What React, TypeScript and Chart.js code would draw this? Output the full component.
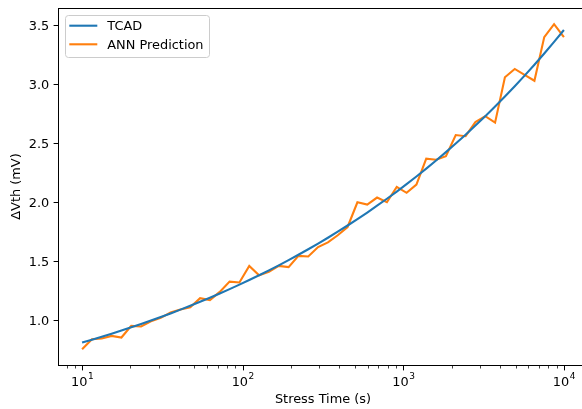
import React, { useEffect, useRef } from "react";
import { Chart, registerables } from "chart.js";

Chart.register(...registerables);

// ---- data ----
const stressTime = [
  10, 11.514, 13.257, 15.264, 17.575, 20.236, 23.3, 26.827, 30.888, 35.565,
  40.949, 47.149, 54.287, 62.506, 71.969, 82.864, 95.41, 109.854, 126.486, 145.635,
  167.683, 193.07, 222.3, 255.955, 294.705, 339.322, 390.694, 449.843, 517.947, 596.362,
  686.649, 790.604, 910.298, 1048.113, 1206.793, 1389.495, 1599.859, 1842.07, 2120.951, 2442.053,
  2811.769, 3237.458, 3727.594, 4291.934, 4941.713, 5689.866, 6551.286, 7543.12, 8685.114, 10000,
];

const tcadValues = [
  0.81, 0.8344, 0.8595, 0.8853, 0.9119, 0.9394, 0.9675, 0.9967, 1.0267, 1.0575,
  1.0894, 1.1221, 1.1558, 1.1907, 1.2265, 1.2634, 1.3014, 1.3405, 1.3808, 1.4224,
  1.4651, 1.5091, 1.5546, 1.6014, 1.6496, 1.6991, 1.7502, 1.8028, 1.8571, 1.913,
  1.9705, 2.0297, 2.0908, 2.1537, 2.2184, 2.2852, 2.3539, 2.4246, 2.4976, 2.5728,
  2.6502, 2.7299, 2.812, 2.8966, 2.9837, 3.0734, 3.1659, 3.2611, 3.3592, 3.4603,
];

const annValues = [
  0.754, 0.839, 0.844, 0.867, 0.853, 0.952, 0.946, 0.99, 1.02, 1.065,
  1.09, 1.11, 1.186, 1.17, 1.24, 1.327, 1.32, 1.46, 1.38, 1.41,
  1.46, 1.45, 1.545, 1.54, 1.62, 1.66, 1.72, 1.79, 2.0, 1.98,
  2.04, 2.0, 2.13, 2.08, 2.15, 2.37, 2.36, 2.39, 2.57, 2.56,
  2.68, 2.73, 2.675, 3.06, 3.13, 3.08, 3.03, 3.4, 3.51, 3.4,
];

const seriesNames = ["TCAD", "ANN Prediction"];
const seriesColors = ["#1f77b4", "#ff7f0e"];

const xMajorTicks = [10, 100, 1000, 10000];
const xTickExponents = ["1", "2", "3", "4"];
const yTicks = [1.0, 1.5, 2.0, 2.5, 3.0, 3.5];
const yTickLabels = ["1.0", "1.5", "2.0", "2.5", "3.0", "3.5"];

const xTitle = "Stress Time (s)";
const yTitle = "ΔVth (mV)";

const X_MIN = 7.0795;
const X_MAX = 14125;
const Y_MIN = 0.62;
const Y_MAX = 3.647;

const FONT = "DejaVu Sans";
const FS = 12.9;
const LW = 2.1;

const decorPlugin = {
  id: "decor",
  afterDraw(chart: any) {
    const ctx: CanvasRenderingContext2D = chart.ctx;
    const { left, right, top, bottom } = chart.chartArea;
    const xs = chart.scales.x;
    const ys = chart.scales.y;
    ctx.save();

    // frame
    ctx.strokeStyle = "#000";
    ctx.lineWidth = 1;
    ctx.strokeRect(left + 0.5, top + 0.5, right - left, bottom - top);

    // x ticks (major + minor)
    for (let e = 0; e <= 4; e++) {
      for (let m = 1; m <= 9; m++) {
        const v = m * Math.pow(10, e);
        if (v < X_MIN || v > X_MAX) continue;
        const px = Math.round(xs.getPixelForValue(v)) + 0.5;
        const major = m === 1;
        ctx.lineWidth = major ? 1 : 0.75;
        ctx.beginPath();
        ctx.moveTo(px, bottom + 1);
        ctx.lineTo(px, bottom + 1 + (major ? 4.4 : 2.5));
        ctx.stroke();
      }
    }

    // x tick labels 10^n
    ctx.fillStyle = "#000";
    ctx.textAlign = "left";
    ctx.textBaseline = "alphabetic";
    xMajorTicks.forEach((v, i) => {
      const px = xs.getPixelForValue(v);
      ctx.font = `${FS}px "${FONT}"`;
      const w10 = ctx.measureText("10").width;
      ctx.font = `9px "${FONT}"`;
      const wE = ctx.measureText(xTickExponents[i]).width;
      const start = px - (w10 + wE) / 2;
      ctx.font = `${FS}px "${FONT}"`;
      ctx.fillText("10", start, 386);
      ctx.font = `9px "${FONT}"`;
      ctx.fillText(xTickExponents[i], start + w10 + 0.5, 379);
    });

    // y ticks + labels
    ctx.font = `${FS}px "${FONT}"`;
    ctx.textAlign = "right";
    yTicks.forEach((v, i) => {
      const py = Math.round(ys.getPixelForValue(v)) + 0.5;
      ctx.lineWidth = 1;
      ctx.beginPath();
      ctx.moveTo(left - 4.4, py);
      ctx.lineTo(left, py);
      ctx.stroke();
      ctx.fillText(yTickLabels[i], left - 8.8, py + 4.6);
    });

    // axis titles
    ctx.textAlign = "center";
    ctx.fillText(xTitle, (left + right) / 2, 403);
    ctx.save();
    ctx.translate(20, (top + bottom) / 2);
    ctx.rotate(-Math.PI / 2);
    ctx.fillText(yTitle, 0, 0);
    ctx.restore();

    // legend
    const lx = 65.5, ly = 15.5, lw = 144, lh = 42, r = 3;
    ctx.beginPath();
    ctx.moveTo(lx + r, ly);
    ctx.lineTo(lx + lw - r, ly);
    ctx.quadraticCurveTo(lx + lw, ly, lx + lw, ly + r);
    ctx.lineTo(lx + lw, ly + lh - r);
    ctx.quadraticCurveTo(lx + lw, ly + lh, lx + lw - r, ly + lh);
    ctx.lineTo(lx + r, ly + lh);
    ctx.quadraticCurveTo(lx, ly + lh, lx, ly + lh - r);
    ctx.lineTo(lx, ly + r);
    ctx.quadraticCurveTo(lx, ly, lx + r, ly);
    ctx.closePath();
    ctx.fillStyle = "rgba(255,255,255,0.8)";
    ctx.fill();
    ctx.strokeStyle = "#cccccc";
    ctx.lineWidth = 1;
    ctx.stroke();

    const rowsY = [25.7, 44.3];
    seriesNames.forEach((name, i) => {
      ctx.strokeStyle = seriesColors[i];
      ctx.lineWidth = LW;
      ctx.beginPath();
      ctx.moveTo(69.3, rowsY[i]);
      ctx.lineTo(97.3, rowsY[i]);
      ctx.stroke();
      ctx.fillStyle = "#000";
      ctx.textAlign = "left";
      ctx.font = `${FS}px "${FONT}"`;
      ctx.fillText(name, 107.3, rowsY[i] + 4.6);
    });

    ctx.restore();
  },
};

export default function App() {
  const canvasRef = useRef<HTMLCanvasElement | null>(null);

  useEffect(() => {
    if (!canvasRef.current) return;
    const chart = new Chart(canvasRef.current, {
      type: "line",
      data: {
        datasets: [
          {
            label: seriesNames[0],
            data: stressTime.map((t, i) => ({ x: t, y: tcadValues[i] })),
            borderColor: seriesColors[0],
            backgroundColor: seriesColors[0],
            borderWidth: LW,
            pointRadius: 0,
            tension: 0,
          },
          {
            label: seriesNames[1],
            data: stressTime.map((t, i) => ({ x: t, y: annValues[i] })),
            borderColor: seriesColors[1],
            backgroundColor: seriesColors[1],
            borderWidth: LW,
            pointRadius: 0,
            tension: 0,
          },
        ],
      },
      options: {
        animation: false,
        responsive: false,
        devicePixelRatio: 1,
        layout: { padding: { left: 58, top: 8, right: 12, bottom: 44 } },
        plugins: { legend: { display: false }, tooltip: { enabled: false } },
        scales: {
          x: { type: "logarithmic", min: X_MIN, max: X_MAX, display: false },
          y: { type: "linear", min: Y_MIN, max: Y_MAX, display: false },
        },
      },
      plugins: [decorPlugin],
    });
    return () => chart.destroy();
  }, []);

  return (
    <div
      style={{
        position: "fixed",
        left: 0,
        top: 0,
        width: 582,
        height: 409,
        overflow: "hidden",
        background: "#fff",
      }}
    >
      <canvas ref={canvasRef} width={600} height={409} style={{ display: "block" }} />
    </div>
  );
}
